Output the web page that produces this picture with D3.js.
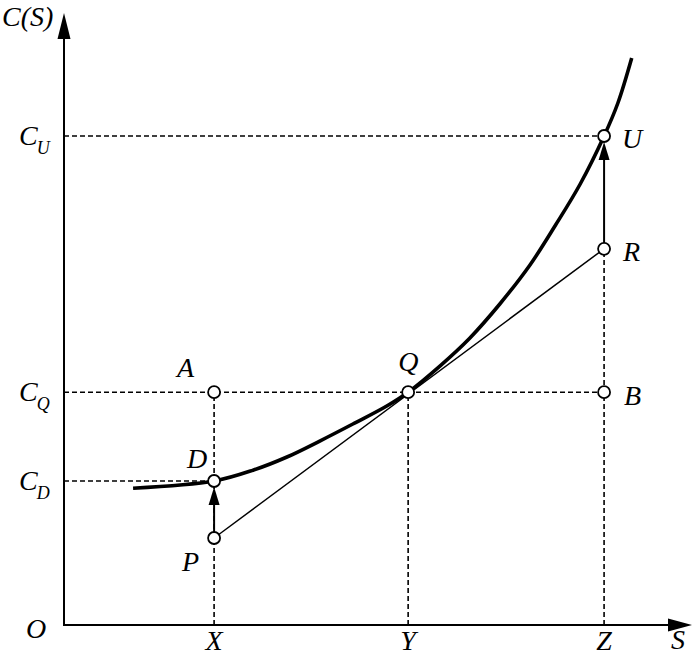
<!DOCTYPE html>
<html>
<head>
<meta charset="utf-8">
<script src="https://cdn.jsdelivr.net/npm/d3@7"></script>
<style>
    body { margin: 0; background: #fff; }
    text { font-family: "Liberation Serif", "Times New Roman", serif; font-style: italic; fill: #000; }
</style>
</head>
<body>
<div id="chart"></div>
<script>
// convex cost curve C(S)
var curveS = [1.10, 2.39, 3.01, 3.55, 4.08, 4.60, 5.14, 5.48, 5.99, 6.46, 6.94, 7.42, 7.83, 8.22, 8.60, 8.82, 9.04];
var curveC = [2.28, 2.40, 2.58, 2.80, 3.07, 3.35, 3.65, 3.88, 4.32, 4.78, 5.35, 6.00, 6.67, 7.35, 8.15, 8.70, 9.45];

// ticks on the S axis and C axis
var sTicks = ['X', 'Y', 'Z'];
var sValues = [2.39, 5.48, 8.60];
var cTicks = ['U', 'Q', 'D'];
var cValues = [8.15, 3.88, 2.40];

// labelled points
var pointNames = ['A', 'Q', 'B', 'D', 'P', 'U', 'R'];
var pointS = [2.39, 5.48, 8.60, 2.39, 2.39, 8.60, 8.60];
var pointC = [3.88, 3.88, 3.88, 2.40, 1.45, 8.15, 6.27];

var width = 698, height = 656;
var fontSize = 28;
var x = d3.scaleLinear().domain([0, 10]).range([64, 692]);
var y = d3.scaleLinear().domain([0, 10]).range([625, 25]);

var svg = d3.select('#chart').append('svg')
    .attr('width', width)
    .attr('height', height);

function pt(name) {
    var i = pointNames.indexOf(name);
    return [x(pointS[i]), y(pointC[i])];
}

// dashed guide lines
var dash = svg.append('g')
    .attr('stroke', '#000')
    .attr('stroke-width', 1.6)
    .attr('stroke-dasharray', '5,3')
    .attr('fill', 'none');

cValues.forEach(function(c, i) {
    var endS = i == 2 ? sValues[0] : sValues[2];
    dash.append('line')
        .attr('x1', x(0)).attr('x2', x(endS))
        .attr('y1', y(c)).attr('y2', y(c));
});
dash.append('line')
    .attr('x1', x(sValues[0])).attr('x2', x(sValues[0]))
    .attr('y1', y(0)).attr('y2', y(cValues[1]));
dash.append('line')
    .attr('x1', x(sValues[1])).attr('x2', x(sValues[1]))
    .attr('y1', y(0)).attr('y2', y(cValues[1]));
dash.append('line')
    .attr('x1', x(sValues[2])).attr('x2', x(sValues[2]))
    .attr('y1', y(0)).attr('y2', pt('R')[1]);

// axes with arrow heads
var axes = svg.append('g').attr('stroke', '#000').attr('stroke-width', 2);
axes.append('line')
    .attr('x1', x(0)).attr('y1', y(0))
    .attr('x2', x(0)).attr('y2', 20);
axes.append('path')
    .attr('d', 'M' + x(0) + ',13 L' + (x(0) - 6.5) + ',39 L' + (x(0) + 6.5) + ',39 Z')
    .attr('fill', '#000').attr('stroke', 'none');
axes.append('line')
    .attr('x1', x(0) - 1).attr('y1', y(0))
    .attr('x2', 680).attr('y2', y(0));
axes.append('path')
    .attr('d', 'M692,' + y(0) + ' L668,' + (y(0) - 6.5) + ' L668,' + (y(0) + 6.5) + ' Z')
    .attr('fill', '#000').attr('stroke', 'none');

// tangent line P-R
svg.append('line')
    .attr('x1', pt('P')[0]).attr('y1', pt('P')[1])
    .attr('x2', pt('R')[0]).attr('y2', pt('R')[1])
    .attr('stroke', '#000').attr('stroke-width', 1.5);

// cost curve
var line = d3.line()
    .x(function(d) { return x(d[0]); })
    .y(function(d) { return y(d[1]); })
    .curve(d3.curveCatmullRom.alpha(0.5));
svg.append('path')
    .datum(curveS.map(function(s, i) { return [s, curveC[i]]; }))
    .attr('d', line)
    .attr('fill', 'none')
    .attr('stroke', '#000')
    .attr('stroke-width', 3.6);

// arrows P->D and R->U
function arrow(from, to) {
    var a = pt(from), b = pt(to);
    var tipY = b[1] + 6;
    svg.append('line')
        .attr('x1', a[0]).attr('y1', a[1])
        .attr('x2', a[0]).attr('y2', tipY + 12)
        .attr('stroke', '#000').attr('stroke-width', 2);
    svg.append('path')
        .attr('d', 'M' + b[0] + ',' + tipY + ' L' + (b[0] - 5.5) + ',' + (tipY + 18) +
            ' L' + (b[0] + 5.5) + ',' + (tipY + 18) + ' Z')
        .attr('fill', '#000');
}
arrow('P', 'D');
arrow('R', 'U');

// open circles
svg.selectAll('circle.pt')
    .data(pointNames)
    .enter()
    .append('circle')
    .attr('class', 'pt')
    .attr('cx', function(d, i) { return x(pointS[i]); })
    .attr('cy', function(d, i) { return y(pointC[i]); })
    .attr('r', 6)
    .attr('fill', '#fff')
    .attr('stroke', '#000')
    .attr('stroke-width', 1.8);

// point labels
var labelOffset = {
    A: [-37, -15], Q: [-10, -21], B: [20, 13], D: [-27, -13],
    P: [-32, 33], U: [18, 12], R: [19, 12]
};
svg.selectAll('text.pt')
    .data(pointNames)
    .enter()
    .append('text')
    .attr('class', 'pt')
    .attr('x', function(d, i) { return x(pointS[i]) + labelOffset[d][0]; })
    .attr('y', function(d, i) { return y(pointC[i]) + labelOffset[d][1]; })
    .attr('font-size', fontSize)
    .text(function(d) { return d; });

// S-axis labels
svg.selectAll('text.s')
    .data(sTicks)
    .enter()
    .append('text')
    .attr('x', function(d, i) { return x(sValues[i]); })
    .attr('y', 650)
    .attr('text-anchor', 'middle')
    .attr('font-size', fontSize)
    .text(function(d) { return d; });

// C-axis labels with subscript
var cl = svg.selectAll('text.c')
    .data(cTicks)
    .enter()
    .append('text')
    .attr('x', 19)
    .attr('y', function(d, i) { return y(cValues[i]) + 9; })
    .attr('font-size', fontSize);
cl.append('tspan').text('C');
cl.append('tspan')
    .attr('dx', -1)
    .attr('dy', 9)
    .attr('font-size', 18)
    .text(function(d) { return d; });

svg.append('text').attr('x', 26).attr('y', 638).attr('font-size', fontSize).text('O');
svg.append('text').attr('x', 671).attr('y', 649).attr('font-size', fontSize).text('S');
svg.append('text').attr('x', 2).attr('y', 26).attr('font-size', fontSize).text('C(S)');
</script>
</body>
</html>
